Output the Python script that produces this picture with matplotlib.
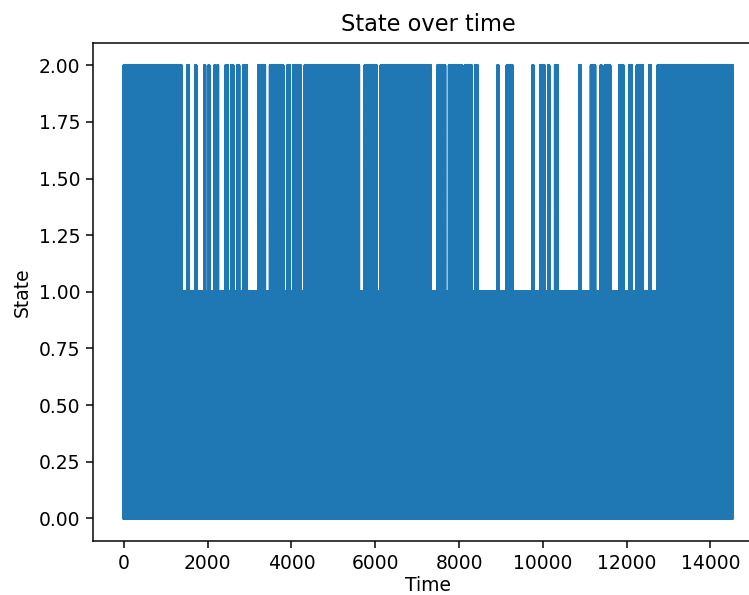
import numpy as np
import matplotlib.pyplot as plt

plt.rcParams['path.simplify'] = False

n_steps = 14530
# stretches of time where the state also reaches 2
high_start = [0, 1518, 1710, 1925, 2025, 2168, 2235, 2433, 2563, 2713, 2856,
              3214, 3492, 3907, 4050, 4320, 5753, 6135, 7489, 7766, 8141,
              8387, 8922, 9144, 9758, 9940, 10131, 10298, 10871, 11151,
              11383, 11485, 11827, 12066, 12249, 12543, 12744, 13825]
high_end = [1371, 1548, 1722, 1937, 2036, 2179, 2245, 2477, 2606, 2749, 2933,
            3363, 3800, 3960, 4214, 5608, 6029, 7318, 7662, 8059, 8297,
            8441, 8935, 9270, 9771, 10034, 10146, 10351, 10901, 11245,
            11395, 11603, 11921, 12119, 12382, 12573, 13795, n_steps - 1]
low_cycle = [0, 1]
high_cycle = [0, 1, 2, 1]

t = np.arange(n_steps)
state = np.array(low_cycle)[t % len(low_cycle)]
for s, e in zip(high_start, high_end):
    state[s:e + 1] = np.array(high_cycle)[t[s:e + 1] % len(high_cycle)]

W, H = 749, 595
fig = plt.figure(figsize=(W / 135, H / 135), dpi=135)
ax = fig.add_axes([93.4 / W, 1 - 541 / H, (763 - 93.4) / W, (541 - 42.7) / H])
ax.plot(t, state)
ax.set_title("State over time")
ax.set_xlabel("Time", labelpad=1.5)
ax.set_ylabel("State")
fig.savefig("out.png", dpi=135)
